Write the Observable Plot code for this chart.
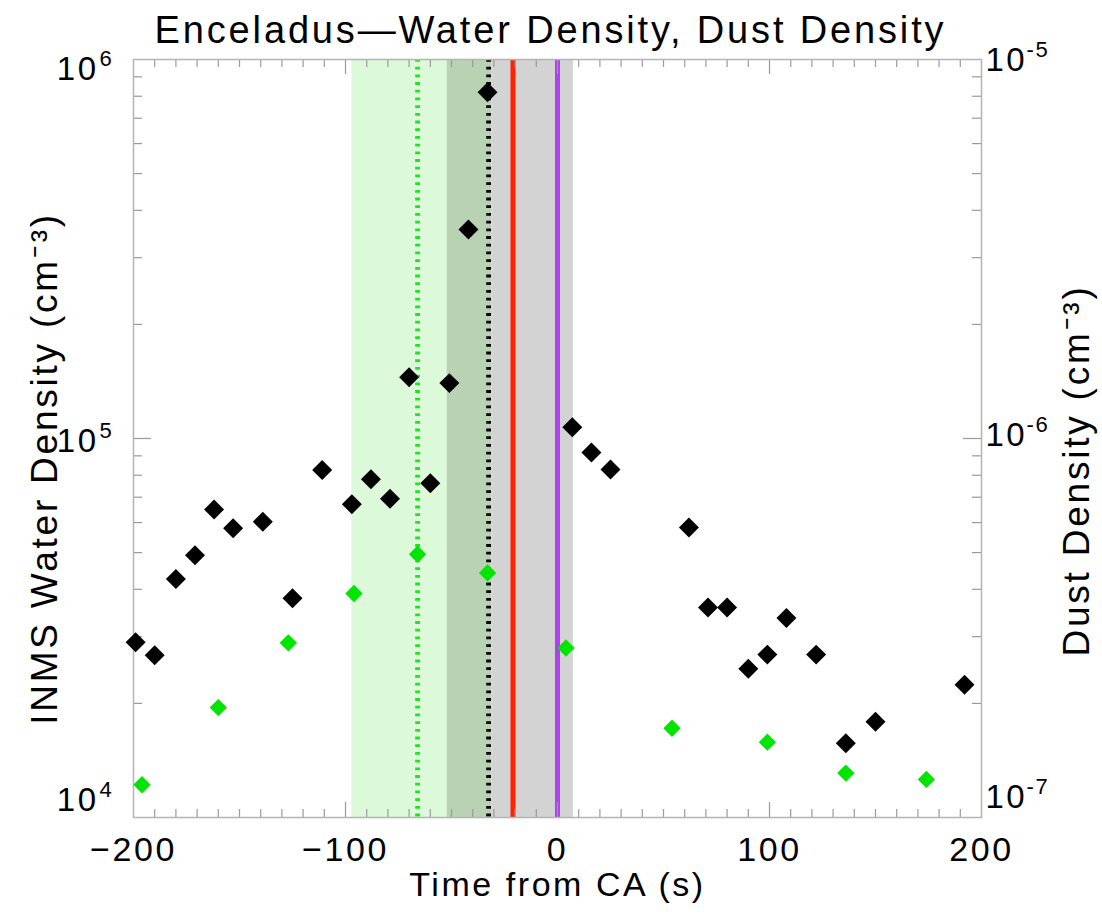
<!DOCTYPE html>
<html><head><meta charset="utf-8">
<script src="https://cdn.jsdelivr.net/npm/d3@7"></script>
<script src="https://cdn.jsdelivr.net/npm/@observablehq/plot@0.6"></script>
<style>
body{margin:0;background:#fff;}
#chart svg{font-family:"Liberation Sans",Arial,sans-serif;}
#chart svg text{letter-spacing:0.075em;}
</style></head><body><div id="chart"></div>
<script>
// INMS water density (black diamonds), left axis
const waterTime = [-199,-190,-180,-171,-162,-153,-139,-125,-111,-97,-88,-79,-70,-60,-51,-42,-33,7,16,25,62,71,80,90,99,108,122,136,150,192];
const waterDensity = [29000,26800,42600,49200,65000,58000,60300,37900,82600,67100,78100,69300,145000,76200,140000,356000,820000,107000,91800,82800,58200,35800,35800,24700,26900,33600,26900,15700,17900,22400];
// Dust density (green diamonds), right axis
const dustTime = [-196,-160,-127,-96,-66,-33,4,54,99,136,174];
const dustDensity = [1.22e-7,1.95e-7,2.89e-7,3.90e-7,4.95e-7,4.42e-7,2.80e-7,1.72e-7,1.58e-7,1.31e-7,1.26e-7];
// shaded intervals
const bandStart = [-97,-52,-31];
const bandEnd = [-52,-31,7.5];
const bandColor = ["#dcf9da","#b9d2b4","#d3d3d3"];
// event lines
const eventTime = [-66,-32.5,-21,0];
const eventColor = ["#1fe41f","#000000","#ff2400","#ad42ee"];
const eventDashed = [true,true,false,false];
// axes
const xTickValues = [-200,-100,0,100,200];
const yLeftTicks = [1e4,1e5,1e6];
const yLeftExp = ["4","5","6"];
const yRightTicks = [1e-7,1e-6,1e-5];
const yRightExp = ["-7","-6","-5"];
const dustScale = 1e11; // right axis 1e-7..1e-5 aligned to left 1e4..1e6

const W = 1102, H = 916;
const mL = 133, mR = W - 981, mT = 59, mB = H - 817;
const fW = W - mL - mR, fH = H - mT - mB;

const water = waterTime.map((t,i)=>({t, v: waterDensity[i]}));
const dust = dustTime.map((t,i)=>({t, v: dustDensity[i]*dustScale}));
const bands = bandStart.map((s,i)=>({s, e: bandEnd[i], c: bandColor[i]}));

const xMinor = d3.range(-190,200,10).filter(d=>d%100!==0);
const xMajor = [-100,0,100];
const yMinor = [];
[1e4,1e5].forEach(k=>{for(let m=2;m<=9;m++) yMinor.push(m*k);});
const yMajor = [1e5];
const tickColor = "#9a9a9a";

const marks = [];
marks.push(Plot.rect(bands,{x1:"s",x2:"e",y1:()=>1e4,y2:()=>1e6,fill:"c"}));
eventTime.forEach((t,i)=>{
  marks.push(Plot.ruleX([t],{stroke:eventColor[i],strokeWidth:eventDashed[i]?4.8:5,strokeDasharray:eventDashed[i]?"2.8,4.9":null}));
});
// ticks (inward, all four sides)
marks.push(Plot.tickX(xMinor,{x:d=>d,insetTop:fH-8,stroke:tickColor,strokeWidth:1.2}));
marks.push(Plot.tickX(xMinor,{x:d=>d,insetBottom:fH-8,stroke:tickColor,strokeWidth:1.2}));
marks.push(Plot.tickX(xMajor,{x:d=>d,insetTop:fH-15,stroke:tickColor,strokeWidth:1.2}));
marks.push(Plot.tickX(xMajor,{x:d=>d,insetBottom:fH-15,stroke:tickColor,strokeWidth:1.2}));
marks.push(Plot.tickY(yMinor,{y:d=>d,insetRight:fW-9,stroke:tickColor,strokeWidth:1.2}));
marks.push(Plot.tickY(yMinor,{y:d=>d,insetLeft:fW-9,stroke:tickColor,strokeWidth:1.2}));
marks.push(Plot.tickY(yMajor,{y:d=>d,insetRight:fW-18,stroke:tickColor,strokeWidth:1.2}));
marks.push(Plot.tickY(yMajor,{y:d=>d,insetLeft:fW-18,stroke:tickColor,strokeWidth:1.2}));
marks.push(Plot.frame({stroke:"#b4b4b4",strokeWidth:1.5}));
// data
marks.push(Plot.dot(water,{x:"t",y:"v",symbol:"diamond2",r:9,fill:"black",stroke:"none"}));
marks.push(Plot.dot(dust,{x:"t",y:"v",symbol:"diamond2",r:7.8,fill:"#00e600",stroke:"none"}));
// x tick labels
marks.push(Plot.text(xTickValues,{x:d=>d,frameAnchor:"bottom",lineAnchor:"middle",dy:33,fontSize:34,fill:"black",text:d=>d<0?"\u2212"+Math.abs(d):String(d)}));
// left y tick labels
const leftDy = i => i===0?-17:(i===yLeftTicks.length-1?10:3);
yLeftTicks.forEach((v,i)=>{
  marks.push(Plot.text([v],{y:d=>d,frameAnchor:"left",textAnchor:"end",lineAnchor:"middle",dx:-35,dy:leftDy(i),fontSize:33,fill:"black",text:()=>"10"}));
  marks.push(Plot.text([v],{y:d=>d,frameAnchor:"left",textAnchor:"start",lineAnchor:"middle",dx:-34,dy:leftDy(i)-11,fontSize:22,fill:"black",text:()=>yLeftExp[i]}));
});
// right y tick labels
const rightDy = i => i===0?-20:(i===yRightTicks.length-1?1:-3);
yRightTicks.forEach((v,i)=>{
  marks.push(Plot.text([v*dustScale],{y:d=>d,frameAnchor:"right",textAnchor:"start",lineAnchor:"middle",dx:4,dy:rightDy(i),fontSize:33,fill:"black",text:()=>"10"}));
  marks.push(Plot.text([v*dustScale],{y:d=>d,frameAnchor:"right",textAnchor:"start",lineAnchor:"middle",dx:45,dy:rightDy(i)-11,fontSize:22,fill:"black",text:()=>yRightExp[i]}));
});
// titles
marks.push(Plot.text(["Enceladus\u2014Water Density, Dust Density"],{frameAnchor:"top",textAnchor:"middle",lineAnchor:"middle",dy:-29,dx:-7,fontSize:38,fill:"black"}));
marks.push(Plot.text(["Time from CA (s)"],{frameAnchor:"bottom",textAnchor:"middle",lineAnchor:"middle",dy:68,fontSize:34,fill:"black"}));
marks.push(Plot.text(["INMS Water Density (cm\u207B\u00B3)"],{frameAnchor:"left",textAnchor:"middle",lineAnchor:"middle",dx:-88,dy:30,rotate:-90,fontSize:37,fill:"black"}));
marks.push(Plot.text(["Dust Density (cm\u207B\u00B3)"],{frameAnchor:"right",textAnchor:"middle",lineAnchor:"middle",dx:96,dy:32,rotate:-90,fontSize:37,fill:"black"}));

const chart = Plot.plot({
  width:W, height:H,
  marginLeft:mL, marginRight:mR, marginTop:mT, marginBottom:mB,
  x:{domain:[-200,200],axis:null},
  y:{type:"log",domain:[1e4,1e6],axis:null},
  color:{type:"identity"},
  style:{fontFamily:"'Liberation Sans',Arial,sans-serif",background:"white"},
  marks
});
document.getElementById("chart").appendChild(chart);
</script></body></html>
